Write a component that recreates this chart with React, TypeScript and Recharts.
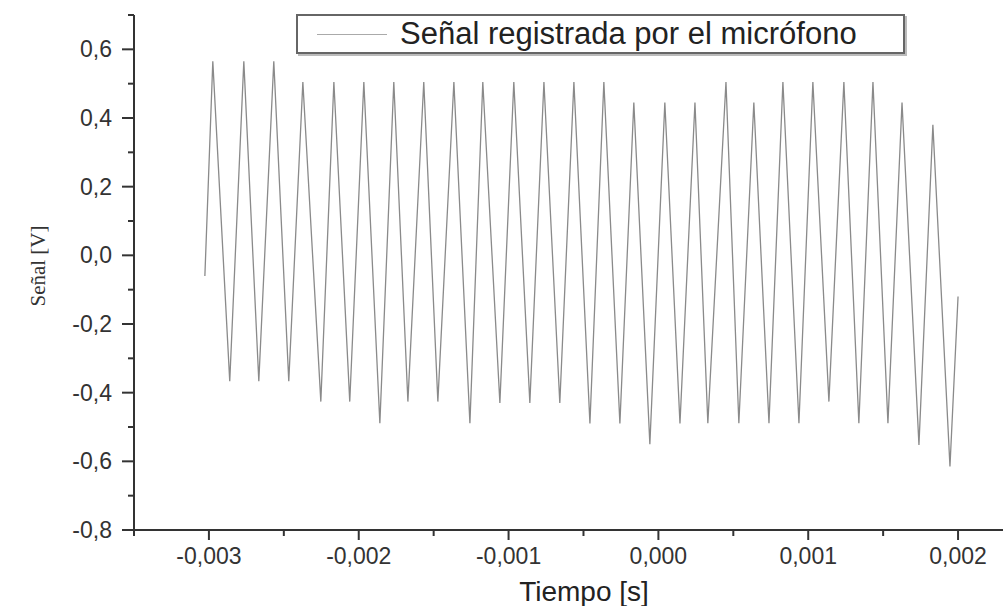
import React from 'react';
import { LineChart, Line, XAxis, YAxis, Legend } from 'recharts';

// Tiempo [s] of each read extreme (peaks and troughs) of the recorded signal
const tiempo = [
  -0.003027, -0.002974, -0.002861, -0.002767, -0.002667, -0.002567, -0.002467,
  -0.002373, -0.002253, -0.002166, -0.00206, -0.001966, -0.001859, -0.001766,
  -0.001672, -0.001566, -0.001472, -0.001365, -0.001258, -0.001172, -0.001058,
  -0.000965, -0.000858, -0.000764, -0.000658, -0.000564, -0.000457, -0.000364,
  -0.000257, -0.000164, -0.000057, 0.000043, 0.000144, 0.000244, 0.00033,
  0.000451, 0.000537, 0.000637, 0.000738, 0.000831, 0.000938, 0.001031,
  0.001138, 0.001238, 0.001338, 0.001432, 0.001532, 0.001626, 0.001739,
  0.001832, 0.001946, 0.002,
];

// Señal [V]
const senal = [
  -0.06, 0.565, -0.367, 0.565, -0.367, 0.565, -0.367,
  0.505, -0.426, 0.505, -0.426, 0.505, -0.489, 0.505,
  -0.426, 0.505, -0.426, 0.505, -0.489, 0.505, -0.43,
  0.505, -0.43, 0.505, -0.43, 0.505, -0.49, 0.505,
  -0.49, 0.445, -0.55, 0.445, -0.49, 0.445, -0.489,
  0.505, -0.489, 0.445, -0.489, 0.505, -0.489, 0.505,
  -0.426, 0.505, -0.489, 0.505, -0.489, 0.445, -0.552,
  0.38, -0.615, -0.12,
];

const xTicks = [-0.0035, -0.003, -0.0025, -0.002, -0.0015, -0.001, -0.0005, 0, 0.0005, 0.001, 0.0015, 0.002];
const yTicks = [-0.8, -0.7, -0.6, -0.5, -0.4, -0.3, -0.2, -0.1, 0, 0.1, 0.2, 0.3, 0.4, 0.5, 0.6, 0.7];

const xLabel = 'Tiempo [s]';
const yLabel = 'Señal [V]';
const seriesName = 'Señal registrada por el micrófono';

const data = tiempo.map((t, i) => ({ t, v: senal[i] }));

const AXIS = '#333';
const SANS = '"Liberation Sans", Arial, sans-serif';

const XTick = (props: any) => {
  const { x, y, payload } = props;
  const v = payload.value as number;
  const major = Math.abs(Math.round(v * 2000)) % 2 === 0;
  return (
    <g>
      <line x1={x} x2={x} y1={y} y2={y + (major ? 10 : 6)} stroke={AXIS} strokeWidth={2} />
      {major && (
        <text x={x} y={y + 34} textAnchor="middle" fontFamily={SANS} fontSize={23} fill="#333">
          {v.toFixed(3).replace('.', ',')}
        </text>
      )}
    </g>
  );
};

const YTick = (props: any) => {
  const { x, y, payload } = props;
  const v = payload.value as number;
  const major = Math.abs(Math.round(v * 10)) % 2 === 0;
  return (
    <g>
      <line x1={x} x2={x - (major ? 12 : 6)} y1={y} y2={y} stroke={AXIS} strokeWidth={2} />
      {major && (
        <text x={x - 22} y={y + 8} textAnchor="end" fontFamily={SANS} fontSize={23} fill="#333">
          {v.toFixed(1).replace('.', ',')}
        </text>
      )}
    </g>
  );
};

const LegendBox = () => (
  <div
    style={{
      boxSizing: 'border-box',
      width: 609,
      height: 40,
      border: '2px solid #666',
      boxShadow: '2px 2px 0 #bbb',
      background: '#fff',
      display: 'flex',
      alignItems: 'center',
    }}
  >
    <div style={{ width: 70, height: 0, borderTop: '1.5px solid #aaa', marginLeft: 19, marginRight: 13 }} />
    <span style={{ fontFamily: SANS, fontSize: 31, color: '#222', whiteSpace: 'nowrap' }}>{seriesName}</span>
  </div>
);

export default function App() {
  return (
    <div style={{ position: 'absolute', left: 0, top: 0, width: 1005, height: 606, background: '#fff' }}>
      <LineChart width={1005} height={606} data={data} margin={{ top: 15, right: 2, bottom: 0, left: 0 }}>
        <XAxis
          dataKey="t"
          type="number"
          domain={[-0.0035, 0.0023]}
          ticks={xTicks}
          interval={0}
          tickSize={0}
          tickMargin={0}
          tickLine={false}
          tick={<XTick />}
          height={76}
          allowDataOverflow
          axisLine={{ stroke: AXIS, strokeWidth: 2 }}
          label={{
            content: () => (
              <text x={584} y={601} textAnchor="middle" fontFamily={SANS} fontSize={28} fill="#222">
                {xLabel}
              </text>
            ),
          }}
        />
        <YAxis
          type="number"
          domain={[-0.8, 0.7]}
          ticks={yTicks}
          interval={0}
          tickSize={0}
          tickMargin={0}
          tickLine={false}
          tick={<YTick />}
          width={134}
          allowDataOverflow
          axisLine={{ stroke: AXIS, strokeWidth: 2 }}
          label={{
            content: () => (
              <text
                x={38}
                y={266}
                textAnchor="middle"
                fontFamily='"Liberation Serif", "Times New Roman", serif'
                fontSize={21}
                fill="#333"
                transform="rotate(-90 38 266)"
                dominantBaseline="central"
              >
                {yLabel}
              </text>
            ),
          }}
        />
        <Legend
          layout="horizontal"
          verticalAlign="middle"
          align="center"
          content={() => <LegendBox />}
          wrapperStyle={{ top: 14, left: 296, width: 609, height: 40 }}
        />
        <Line
          type="linear"
          dataKey="v"
          name={seriesName}
          stroke="#8a8a8a"
          strokeWidth={1.3}
          dot={false}
          isAnimationActive={false}
        />
      </LineChart>
    </div>
  );
}
